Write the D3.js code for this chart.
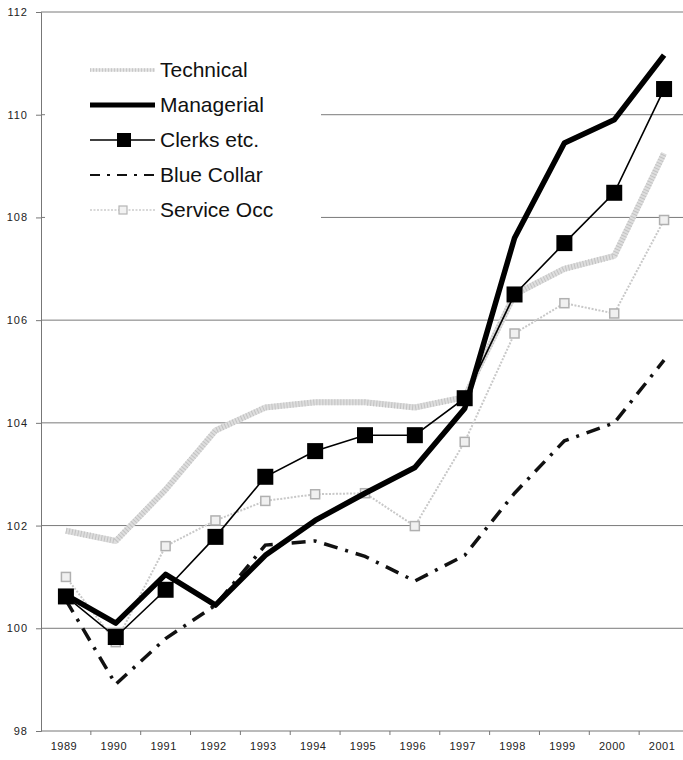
<!DOCTYPE html>
<html><head><meta charset="utf-8">
<script src="https://cdn.jsdelivr.net/npm/d3@7"></script>
<style>body{margin:0;background:#fff}svg{display:block}</style>
</head><body>
<svg id="c" width="683" height="760"></svg>
<script>
const years = ["1989","1990","1991","1992","1993","1994","1995","1996","1997","1998","1999","2000","2001"];
const technical  = [101.9,101.7,102.7,103.85,104.3,104.4,104.4,104.3,104.5,106.5,107.0,107.25,109.25];
const managerial = [100.65,100.1,101.05,100.45,101.42,102.1,102.63,103.13,104.28,107.6,109.45,109.9,111.16];
const clerks     = [100.62,99.83,100.75,101.78,102.95,103.45,103.76,103.76,104.48,106.5,107.5,108.48,110.5];
const blueCollar = [100.55,98.91,99.8,100.45,101.62,101.7,101.4,100.92,101.42,102.63,103.65,104.0,105.22];
const serviceOcc = [101.0,99.73,101.6,102.1,102.48,102.61,102.63,101.99,103.63,105.74,106.33,106.13,107.95];
const yTicks = [98,100,102,104,106,108,110,112];
const legendNames = ["Technical","Managerial","Clerks etc.","Blue Collar","Service Occ"];

const svg = d3.select("#c");
const L = 41, R = 689, T = 12, B = 731;
const x = d3.scaleBand().domain(years).range([L, R]).padding(0);
const cx = d => x(d) + x.bandwidth()/2;
const y = d3.scaleLinear().domain([98,112]).range([B, T]);

// gridlines
svg.append("g").selectAll("line").data(yTicks.filter(v=>v>98)).join("line")
  .attr("x1", L).attr("x2", 683).attr("y1", d=>y(d)).attr("y2", d=>y(d))
  .attr("stroke", "#7a7a7a").attr("stroke-width", 1);

// y axis
const ya = svg.append("g").attr("transform", `translate(${L},0)`)
  .call(d3.axisLeft(y).tickValues(yTicks).tickSize(5).tickPadding(8));
ya.select(".domain").attr("stroke", "#777");
ya.selectAll(".tick line").attr("stroke", "#777");
ya.selectAll("text").attr("font-family", "Liberation Sans, Arial, sans-serif")
  .attr("font-size", 11).attr("fill", "#222").attr("letter-spacing", "1px");

// x axis
const xa = svg.append("g").attr("transform", `translate(0,${B})`)
  .call(d3.axisBottom(x).tickSize(0).tickPadding(11));
xa.select(".domain").attr("stroke", "#777").attr("d", `M${L},0H683`);
xa.selectAll("text").attr("font-family", "Liberation Sans, Arial, sans-serif")
  .attr("font-size", 11).attr("fill", "#222").attr("letter-spacing", "0.5px")
  .attr("dx", "-2");
svg.append("g").selectAll("line").data(years.slice(1)).join("line")
  .attr("x1", d=>x(d)).attr("x2", d=>x(d)).attr("y1", B).attr("y2", B+4)
  .attr("stroke", "#777");

// legend background box
svg.append("rect").attr("x", 45).attr("y", 26).attr("width", 276).attr("height", 204).attr("fill", "#fff");

const line = d3.line().x((d,i)=>cx(years[i])).y(d=>y(d));

// Technical
svg.append("path").datum(technical).attr("d", line).attr("fill","none")
  .attr("stroke","#dedede").attr("stroke-width",6).attr("stroke-linejoin","round");
svg.append("path").datum(technical).attr("d", line).attr("fill","none")
  .attr("stroke","#c2c2c2").attr("stroke-width",6).attr("stroke-dasharray","1,2");

// Service Occ
svg.append("path").datum(serviceOcc).attr("d", line).attr("fill","none")
  .attr("stroke","#c8c8c8").attr("stroke-width",2).attr("stroke-dasharray","2,1.5");
svg.append("g").selectAll("rect").data(serviceOcc).join("rect")
  .attr("x",(d,i)=>cx(years[i])-4.5).attr("y",d=>y(d)-4.5).attr("width",9).attr("height",9)
  .attr("fill","#f0f0f0").attr("stroke","#b0b0b0").attr("stroke-width",1.5);

// Blue Collar
svg.append("path").datum(blueCollar).attr("d", line).attr("fill","none")
  .attr("stroke","#111").attr("stroke-width",3.5).attr("stroke-dasharray","14,8,3,8");

// Managerial
svg.append("path").datum(managerial).attr("d", line).attr("fill","none")
  .attr("stroke","#000").attr("stroke-width",5.5).attr("stroke-linejoin","round");

// Clerks
svg.append("path").datum(clerks).attr("d", line).attr("fill","none")
  .attr("stroke","#000").attr("stroke-width",1.6);
svg.append("g").selectAll("rect").data(clerks).join("rect")
  .attr("x",(d,i)=>cx(years[i])-8).attr("y",d=>y(d)-8).attr("width",16).attr("height",16)
  .attr("fill","#000");

// legend
const lg = svg.append("g");
const ly0 = 70, ldy = 35, lx1 = 90, lx2 = 155;
legendNames.forEach((n,i)=>{
  const yy = ly0 + i*ldy;
  const g = lg.append("g");
  if (i===0) {
    g.append("line").attr("x1",lx1).attr("x2",lx2).attr("y1",yy).attr("y2",yy)
      .attr("stroke","#e2e2e2").attr("stroke-width",3.5);
    g.append("line").attr("x1",lx1).attr("x2",lx2).attr("y1",yy).attr("y2",yy)
      .attr("stroke","#c8c8c8").attr("stroke-width",3.5).attr("stroke-dasharray","1,2");
  } else if (i===1) {
    g.append("line").attr("x1",lx1).attr("x2",lx2).attr("y1",yy).attr("y2",yy)
      .attr("stroke","#000").attr("stroke-width",5);
  } else if (i===2) {
    g.append("line").attr("x1",lx1).attr("x2",lx2).attr("y1",yy).attr("y2",yy)
      .attr("stroke","#000").attr("stroke-width",1.6);
    g.append("rect").attr("x",117).attr("y",yy-7).attr("width",14).attr("height",14).attr("fill","#000");
  } else if (i===3) {
    g.append("line").attr("x1",lx1).attr("x2",lx2).attr("y1",yy).attr("y2",yy)
      .attr("stroke","#111").attr("stroke-width",2).attr("stroke-dasharray","10,7,3,7");
  } else {
    g.append("line").attr("x1",lx1).attr("x2",lx2).attr("y1",yy).attr("y2",yy)
      .attr("stroke","#cccccc").attr("stroke-width",1.5).attr("stroke-dasharray","2,1.5");
    g.append("rect").attr("x",119).attr("y",yy-4).attr("width",8).attr("height",8)
      .attr("fill","#f2f2f2").attr("stroke","#b5b5b5").attr("stroke-width",1.2);
  }
  g.append("text").attr("x",160).attr("y",yy+7).text(n)
    .attr("font-family","Liberation Sans, Arial, sans-serif").attr("font-size",21).attr("fill","#111");
});
</script>
</body></html>
